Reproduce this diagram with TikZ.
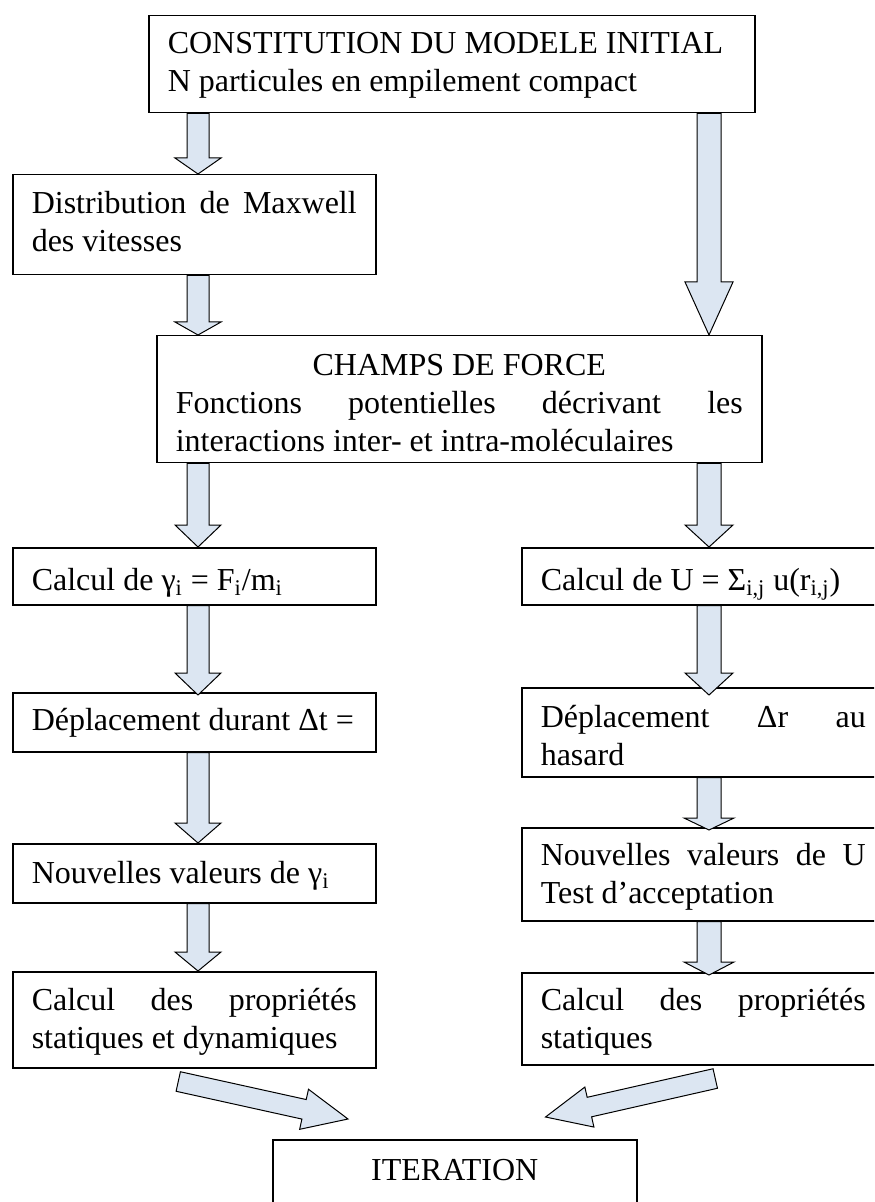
\documentclass[tikz,border=0pt]{standalone}
\usepackage{fontspec}
\setmainfont{Liberation Serif}
\usetikzlibrary{calc}
\setlength{\parindent}{0pt}
\definecolor{arrowblue}{RGB}{220,230,242}
\tikzset{
  box/.style={draw, line width=0.75pt, anchor=north west, inner xsep=9.5pt, inner ysep=0pt,
    text width=162.5pt, font=\fontsize{16}{19}\selectfont,
    execute at begin node={\spaceskip=0pt\xspaceskip=0pt}},
  arrowbody/.style={draw, line width=0.5pt, fill=arrowblue},
}
% block arrow: head length, half shaft, half head, from, to
\newcommand{\blockarrow}[5]{%
  \coordinate (ba-s) at (#4);
  \coordinate (ba-t) at (#5);
  \coordinate (ba-h) at ($(ba-t)!#1!(ba-s)$);
  \draw[arrowbody] ($(ba-s)!#2!90:(ba-t)$) -- ($(ba-h)!#2!90:(ba-t)$)
    -- ($(ba-h)!#3!90:(ba-t)$) -- (ba-t) -- ($(ba-h)!#3!-90:(ba-t)$)
    -- ($(ba-h)!#2!-90:(ba-t)$) -- ($(ba-s)!#2!-90:(ba-t)$) -- cycle;
}

\begin{document}
\begin{tikzpicture}[x=0.5pt, y=-0.5pt]
  \clip (0,0) rectangle (874,1202);
  \coordinate (lcol) at (198,0);
  \coordinate (rcol) at (709,0);

  \node[box, text width=284pt, text height=19pt, text depth=29.5pt] (init) at (148,15)
    {CONSTITUTION DU MODELE INITIAL\\ N particules en empilement compact};
  \node[box, text height=19.5pt, text depth=30.5pt] (maxwell) at (12,174)
    {\makebox[\hsize]{Distribution\hfill de\hfill Maxwell}\\ des vitesses};
  \node[box, text width=283.5pt, text height=20pt, text depth=43.5pt] (champs) at (156,335)
    {\makebox[\hsize]{CHAMPS DE FORCE}\\
     \makebox[\hsize]{Fonctions\hfill potentielles\hfill décrivant\hfill les}\\
     interactions inter- et intra-moléculaires};

  % dynamique moléculaire
  \node[box, text height=21.5pt, text depth=7pt] (gamma) at (12,547)
    {Calcul de γ\textsubscript{i} = F\textsubscript{i}/m\textsubscript{i}};
  \node[box, text height=19pt, text depth=10.5pt] (depl) at (12,692) {Déplacement durant Δt =};
  \node[box, text height=20pt, text depth=9.5pt] (nouv) at (12,843) {Nouvelles valeurs de γ\textsubscript{i}};
  \node[box, text height=19.5pt, text depth=28.5pt] (propd) at (12,971)
    {\makebox[\hsize]{Calcul\hfill des\hfill propriétés}\\ statiques et dynamiques};

  % Monte Carlo
  \node[box, text height=21.5pt, text depth=7pt] (calcu) at (521,547)
    {Calcul de U = Σ\textsubscript{i,j} u(r\textsubscript{i,j})};
  \node[box, text height=20pt, text depth=24.5pt] (deplr) at (521,687)
    {\makebox[\hsize]{Déplacement\hfill Δr\hfill au}\\ hasard};
  \node[box, text height=19pt, text depth=27.5pt] (nouvr) at (521,827)
    {\makebox[\hsize]{Nouvelles\hfill valeurs\hfill de\hfill U}\\ Test d’acceptation};
  \node[box, text height=19pt, text depth=27pt] (propr) at (521,972)
    {\makebox[\hsize]{Calcul\hfill des\hfill propriétés}\\ statiques};

  \node[box, text width=163pt, align=center, text height=20.5pt, text depth=19.5pt]
    (iter) at (272,1139) {ITERATION};

  \blockarrow{8pt}{5.5pt}{11.5pt}{init.south -| lcol}{maxwell.north -| lcol}
  \blockarrow{26.5pt}{6pt}{12pt}{init.south -| rcol}{champs.north -| rcol}
  \blockarrow{6.5pt}{5.5pt}{11.5pt}{maxwell.south -| lcol}{champs.north -| lcol}
  \blockarrow{11pt}{5.5pt}{11.5pt}{champs.south -| lcol}{gamma.north -| lcol}
  \blockarrow{11pt}{6pt}{12pt}{champs.south -| rcol}{calcu.north -| rcol}
  \blockarrow{11pt}{5.5pt}{11.5pt}{gamma.south -| lcol}{$(depl.north -| lcol)+(0,3)$}
  \blockarrow{11pt}{6pt}{12pt}{calcu.south -| rcol}{$(deplr.north -| rcol)+(0,8)$}
  \blockarrow{10pt}{5.5pt}{11.5pt}{depl.south -| lcol}{nouv.north -| lcol}
  \blockarrow{6pt}{6pt}{12.5pt}{deplr.south -| rcol}{$(nouvr.north -| rcol)+(0,3)$}
  \blockarrow{9.5pt}{5.5pt}{11.5pt}{nouv.south -| lcol}{propd.north -| lcol}
  \blockarrow{6.5pt}{6pt}{12.5pt}{nouvr.south -| rcol}{$(propr.north -| rcol)+(0,3)$}

  \coordinate (dl) at ($(propd.south)+(-16,13)$);
  \coordinate (dr) at ($(propr.south)+(12,13)$);
  \blockarrow{22.5pt}{5pt}{10.25pt}{dl}{$(iter.north west)+(76,-20)$}
  \blockarrow{22.5pt}{5pt}{10.25pt}{dr}{$(iter.north east)+(-92,-22)$}
\end{tikzpicture}
\end{document}
